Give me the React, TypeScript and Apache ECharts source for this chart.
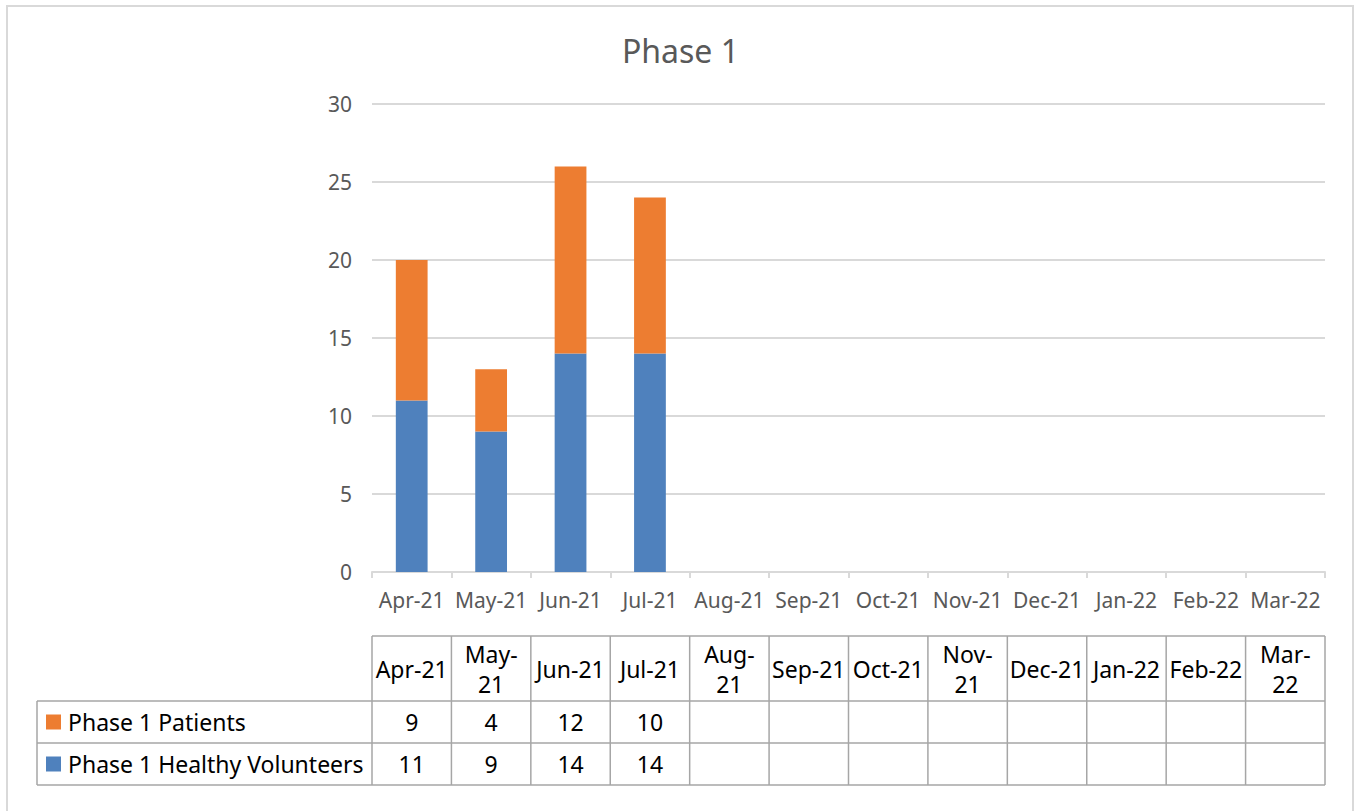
import React, { useEffect, useRef } from "react";
import * as echarts from "echarts";

const categories = ["Apr-21", "May-21", "Jun-21", "Jul-21", "Aug-21", "Sep-21", "Oct-21", "Nov-21", "Dec-21", "Jan-22", "Feb-22", "Mar-22"];
const patients: (number | null)[] = [9, 4, 12, 10, null, null, null, null, null, null, null, null];
const volunteers: (number | null)[] = [11, 9, 14, 14, null, null, null, null, null, null, null, null];
const wrappedHeaders = ["May-21", "Aug-21", "Nov-21", "Mar-22"];
const yTicks = { min: 0, max: 30, interval: 5 };

const ORANGE = "#ED7D31";
const BLUE = "#4F81BD";
const FONT = "'Noto Sans', sans-serif";

export default function App() {
  const ref = useRef<HTMLDivElement>(null);
  useEffect(() => {
    if (!ref.current) return;
    const chart = echarts.init(ref.current, undefined, { renderer: "svg" });
    const option: any = {
      animation: false,
      backgroundColor: "#fff",
      title: {
        text: "Phase 1",
        left: "center",
        top: 29,
        textStyle: { fontFamily: FONT, fontSize: 32, fontWeight: "normal", color: "#595959" },
      },
      grid: { left: 372, right: 36, top: 104, bottom: 239 },
      xAxis: {
        type: "category",
        data: categories,
        axisLine: { lineStyle: { color: "#d9d9d9", width: 2 } },
        axisTick: { show: true, length: 6, lineStyle: { color: "#d9d9d9", width: 2 } },
        axisLabel: { fontFamily: FONT, fontSize: 21, color: "#595959", margin: 17, interval: 0, hideOverlap: false },
      },
      yAxis: {
        type: "value",
        min: yTicks.min,
        max: yTicks.max,
        interval: yTicks.interval,
        axisLine: { show: false },
        axisTick: { show: false },
        axisLabel: { fontFamily: FONT, fontSize: 21, color: "#595959", margin: 20 },
        splitLine: { lineStyle: { color: "#d9d9d9", width: 2 } },
      },
      series: [
        {
          name: "Phase 1 Healthy Volunteers",
          type: "bar",
          stack: "a",
          data: volunteers,
          barCategoryGap: "60%",
          itemStyle: { color: BLUE },
        },
        {
          name: "Phase 1 Patients",
          type: "bar",
          stack: "a",
          data: patients,
          barCategoryGap: "60%",
          itemStyle: { color: ORANGE },
        },
      ],
    };
    chart.setOption(option);

    const xs = categories.map((c) => chart.convertToPixel({ xAxisIndex: 0 }, c) as number);
    const step = xs[1] - xs[0];
    const bounds = xs.map((x) => x - step / 2);
    bounds.push(xs[xs.length - 1] + step / 2);
    const tLeft = 37;
    const hTop = 636;
    const r1 = 701;
    const r2 = 743;
    const r3 = 785;
    const lineStyle = { stroke: "#a6a6a6", lineWidth: 1.5 };
    const els: any[] = [];
    els.push({ type: "rect", shape: { x: 7, y: 6, width: 1346, height: 820 }, style: { fill: "none", stroke: "#d9d9d9", lineWidth: 2 }, silent: true });
    els.push({ type: "line", shape: { x1: bounds[0], y1: hTop, x2: bounds[12], y2: hTop }, style: lineStyle });
    [r1, r2, r3].forEach((y) => els.push({ type: "line", shape: { x1: tLeft, y1: y, x2: bounds[12], y2: y }, style: lineStyle }));
    els.push({ type: "line", shape: { x1: tLeft, y1: r1, x2: tLeft, y2: r3 }, style: lineStyle });
    bounds.forEach((b) => els.push({ type: "line", shape: { x1: b, y1: hTop, x2: b, y2: r3 }, style: lineStyle }));
    categories.forEach((c, i) => {
      const txt = wrappedHeaders.includes(c) ? c.replace("-", "-\n") : c;
      els.push({
        type: "text",
        x: xs[i],
        y: (hTop + r1) / 2,
        style: { text: txt, fontFamily: FONT, fontSize: 23, fill: "#000", align: "center", verticalAlign: "middle", lineHeight: 30 },
      });
    });
    const rows = [
      { name: "Phase 1 Patients", color: ORANGE, data: patients, top: r1, bot: r2 },
      { name: "Phase 1 Healthy Volunteers", color: BLUE, data: volunteers, top: r2, bot: r3 },
    ];
    rows.forEach((r) => {
      const cy = (r.top + r.bot) / 2;
      els.push({ type: "rect", shape: { x: 46, y: cy - 7.5, width: 15, height: 15 }, style: { fill: r.color } });
      els.push({
        type: "text",
        x: 68,
        y: cy,
        style: { text: r.name, fontFamily: FONT, fontSize: 23, fill: "#000", align: "left", verticalAlign: "middle" },
      });
      r.data.forEach((v, i) => {
        if (v == null) return;
        els.push({
          type: "text",
          x: xs[i],
          y: cy,
          style: { text: String(v), fontFamily: FONT, fontSize: 23, fill: "#000", align: "center", verticalAlign: "middle" },
        });
      });
    });
    chart.setOption({ graphic: { elements: els } });
    return () => chart.dispose();
  }, []);
  return <div ref={ref} style={{ position: "absolute", left: 0, top: 0, width: 1361, height: 811 }} />;
}
